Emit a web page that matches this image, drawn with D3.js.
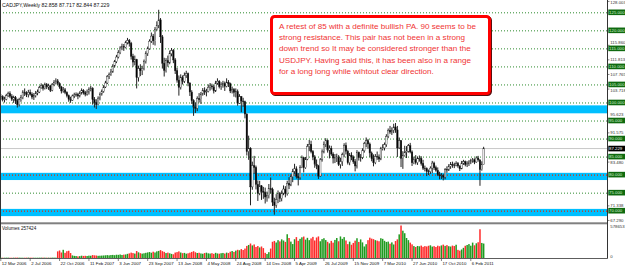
<!DOCTYPE html>
<html>
<head>
<meta charset="utf-8">
<script src="https://cdn.jsdelivr.net/npm/d3@7"></script>
<style>
  body { margin: 0; background: #fff; }
  svg { display: block; }
  text { font-family: "Liberation Sans", Arial, sans-serif; }
</style>
</head>
<body>
<script>
// CADJPY weekly, 12 Mar 2006 .. 27 Mar 2011 (one value per week)
var symbolTitle = "CADJPY,Weekly  82.858 87.717 82.844 87.229";
var firstOpen = 101.3;   // open of the first bar, the rest open at the previous close

var closes = [
  101.6,100.8,100.9,101.9,102.5,101.7,100.9,101.3,100.5,99.4,
  100.8,101.4,102.9,102.6,102.2,102.8,102.3,101.5,101.9,102.6,
  102.9,104.1,104.7,103.9,105.0,104.3,104.6,103.4,104.9,105.5,
  106.0,105.3,104.3,103.2,103.5,102.8,101.9,100.9,100.6,101.8,
  102.1,102.2,101.8,102.6,103.3,102.7,102.3,102.9,103.6,104.0,
  100.8,100.0,99.4,101.2,102.3,103.1,104.3,105.4,107.2,107.8,
  108.5,110.1,111.3,112.6,113.8,115.1,115.6,115.3,116.6,117.2,
  116.4,112.8,111.2,111.9,106.9,109.4,108.8,109.5,111.4,113.6,
  114.9,117.0,118.4,117.1,120.3,121.4,122.9,118.2,110.9,108.9,
  111.6,111.0,113.5,114.4,111.8,108.8,106.2,104.2,106.9,105.9,
  107.5,108.0,105.4,102.9,100.5,98.7,98.4,101.1,100.8,102.3,
  103.4,102.9,103.1,104.2,104.6,104.3,103.2,105.4,105.9,104.4,
  104.9,105.3,104.5,105.6,105.2,103.2,103.6,102.8,103.0,99.8,
  101.6,100.4,100.2,96.8,86.4,87.3,76.6,82.5,82.0,77.3,
  74.8,76.9,75.4,75.1,73.8,74.2,76.2,75.9,72.4,71.5,
  73.1,74.8,73.4,74.9,76.0,74.7,77.6,77.1,79.4,80.9,
  81.6,79.5,79.1,82.0,84.7,81.9,84.3,87.8,88.4,86.4,
  84.9,82.9,82.4,79.6,84.1,86.3,88.4,89.5,86.8,87.3,
  85.7,84.6,84.8,84.9,82.8,83.6,85.5,88.1,86.5,83.3,
  85.4,84.9,83.6,82.4,86.2,84.7,84.8,86.6,88.6,89.4,
  88.5,86.0,84.4,83.3,85.0,84.9,84.3,87.2,87.4,88.3,
  90.6,92.3,91.8,92.3,93.2,92.4,87.4,89.4,84.5,85.3,
  86.2,86.5,88.0,86.3,83.3,84.3,83.3,84.4,84.5,83.1,
  81.8,81.7,80.9,80.8,81.8,83.2,81.9,81.2,80.0,79.7,
  79.8,79.3,81.4,81.3,82.3,82.8,82.7,82.6,83.1,82.4,
  81.6,83.2,83.6,82.8,83.0,83.5,84.0,84.1,83.5,84.6,
  84.1,81.4,82.858,87.229
];
var highs = [
  102.3,102.0,101.6,102.4,103.0,103.1,102.3,101.9,101.8,101.0,
  101.3,102.1,103.4,103.9,103.1,103.5,103.6,102.8,102.6,103.2,
  103.6,104.6,105.3,105.0,105.5,105.4,105.2,104.9,105.4,106.2,
  106.7,106.5,105.6,104.6,104.3,104.0,103.1,102.2,101.6,102.2,
  102.7,102.8,102.7,103.1,103.9,103.7,103.2,103.6,104.2,104.6,
  104.2,101.5,100.9,101.7,102.8,103.6,104.8,106.0,107.6,108.3,
  109.3,110.6,111.8,113.2,114.5,115.6,116.3,116.2,117.1,117.9,
  117.6,116.8,113.5,113.0,112.1,110.2,110.6,110.2,111.9,114.2,
  115.5,117.5,119.4,119.0,120.9,122.5,125.7,123.4,118.7,112.4,
  112.3,113.0,114.4,115.1,114.8,112.3,109.6,107.5,107.8,107.5,
  108.3,108.8,108.3,105.6,103.4,100.9,100.0,101.7,102.6,102.9,
  104.0,104.2,103.8,105.0,105.4,105.2,104.8,106.0,106.7,106.2,
  105.6,106.0,105.8,106.7,106.2,105.5,104.4,104.0,103.9,103.6,
  102.3,101.8,101.3,100.5,97.0,90.8,87.6,83.6,85.2,82.5,
  78.4,78.3,77.1,76.6,76.4,75.3,77.4,79.2,76.4,73.6,
  74.6,75.6,75.2,75.6,77.0,76.8,78.3,79.3,80.1,81.6,
  83.0,82.3,80.4,82.6,85.3,84.8,84.9,88.5,89.6,89.4,
  86.8,85.4,84.2,82.7,84.6,87.0,89.2,90.1,89.7,88.1,
  88.0,86.2,85.7,85.8,85.4,84.7,86.1,88.7,88.9,86.9,
  86.0,86.2,85.3,84.3,86.8,86.4,85.7,87.3,89.1,90.3,
  89.9,88.9,86.4,85.6,85.7,86.4,85.6,87.7,88.4,88.9,
  91.2,92.8,93.5,93.1,94.1,94.3,93.5,90.3,89.6,86.5,
  88.0,87.9,88.5,88.8,86.7,85.0,85.4,85.0,85.3,85.1,
  84.1,82.5,82.0,81.4,82.3,83.8,83.6,82.5,82.0,80.8,
  80.4,80.2,81.8,82.3,82.9,83.5,83.6,83.3,83.7,83.5,
  82.6,83.8,84.1,83.9,83.7,84.0,84.4,84.6,84.5,85.1,
  85.2,84.2,83.7,87.717
];
var lows = [
  100.6,100.3,100.0,100.6,101.5,101.2,100.4,99.9,99.6,98.6,
  98.9,100.2,100.9,101.8,101.5,101.4,101.9,100.9,100.7,101.4,
  102.0,102.6,103.8,103.3,103.6,103.7,103.5,102.9,103.1,104.5,
  105.0,104.8,103.8,102.5,102.7,102.3,101.4,100.2,99.9,100.4,
  101.2,101.6,100.9,101.4,102.2,102.2,101.7,101.9,102.2,103.1,
  99.4,98.6,98.2,99.2,100.6,101.9,102.7,104.0,105.1,106.5,
  107.4,108.2,109.7,110.9,112.2,113.4,114.5,114.3,115.0,116.1,
  115.5,111.9,109.9,110.3,103.9,105.8,107.3,107.6,108.9,110.8,
  112.9,114.6,116.5,116.0,115.8,119.9,120.6,116.5,109.4,107.2,
  108.3,109.9,110.6,112.8,110.9,107.9,105.5,101.9,103.6,105.0,
  105.4,106.8,104.5,101.8,99.6,96.3,97.1,97.6,100.0,99.6,
  101.9,102.1,101.7,102.8,103.3,103.6,102.5,102.9,104.9,103.9,
  103.5,104.1,103.2,104.2,104.3,102.6,102.5,101.6,101.4,99.1,
  99.6,97.3,98.8,95.6,85.3,84.1,71.5,75.8,80.2,75.9,
  72.7,74.3,73.0,73.3,72.0,72.5,73.4,74.8,71.3,68.9,
  70.8,72.1,72.4,72.6,74.3,73.7,74.2,76.0,76.8,77.9,
  80.2,78.9,77.0,78.6,81.8,80.6,81.6,84.0,86.5,85.9,
  84.0,81.9,81.5,78.8,79.4,83.6,85.9,87.6,86.1,84.5,
  85.2,83.1,83.2,83.5,82.4,81.7,82.4,84.8,85.6,82.8,
  82.6,84.0,83.0,80.9,81.7,83.9,83.6,84.3,86.1,87.6,
  87.2,84.9,83.7,82.3,82.9,84.1,83.5,84.0,86.7,86.7,
  87.7,90.1,91.3,91.0,91.5,91.6,84.9,87.1,82.1,81.6,
  85.0,84.6,86.1,85.9,82.4,82.9,82.8,82.7,83.6,82.5,
  81.3,80.9,79.6,79.9,80.2,80.4,81.3,80.8,79.6,78.7,
  78.8,78.4,78.7,80.5,81.0,81.6,81.9,81.8,82.3,81.9,
  81.0,81.5,82.7,82.3,82.1,82.4,82.9,83.3,82.9,83.3,
  83.6,76.9,81.1,82.844
];
var volumes = [
  6100,5400,4800,5900,6600,5200,4700,5800,6900,7300,6200,5600,4900,5300,6400,7100,
  5900,6300,5500,4600,5200,6000,6800,7400,6500,5700,6100,5800,6600,7000,6200,
  118000,134000,98000,146000,92000,121000,129000,88000,46000,
  38000,35000,29000,33000,41000,37000,39000,36000,42000,40000,52000,47000,44000,39000,41000,43000,
  45000,48000,51000,47000,53000,55000,50000,58000,56000,62000,54000,60000,63000,
  74000,82000,96000,88000,79000,124000,101000,86000,
  78000,84000,92000,99000,106000,94000,112000,98000,118000,126000,
  141000,122000,109000,88000,96000,84000,73000,66000,97000,105000,
  118000,98000,86000,91000,77000,84000,95000,108000,121000,102000,
  89000,93000,81000,76000,88000,95000,83000,79000,86000,74000,
  92000,81000,77000,85000,90000,79000,96000,88000,112000,124000,
  108000,131000,146000,138000,159000,142000,168000,215000,
  232000,258000,224000,241000,196000,213000,188000,205000,176000,
  92000,71000,104000,168000,
  289000,304000,276000,318000,296000,332000,311000,287000,423000,356000,292000,248000,334000,372000,306000,
  341000,368000,382000,327000,359000,318000,349000,376000,312000,365000,
  384000,298000,336000,352000,319000,288000,261000,305000,273000,
  322000,356000,298000,384000,341000,372000,312000,247000,291000,
  236000,268000,309000,352000,286000,331000,278000,205000,246000,
  318000,362000,345000,336000,318000,309000,298000,352000,341000,
  306000,286000,292000,254000,278000,241000,302000,332000,
  421000,578653,486000,441000,356000,
  318000,274000,243000,212000,196000,
  214000,208000,221000,199000,212000,205000,218000,226000,203000,211000,
  196000,219000,209000,224000,238000,216000,229000,210000,204000,221000,
  213000,236000,145000,131000,152000,181000,218000,
  232000,248000,219000,274000,226000,262000,281000,512000,268000,257424
];
var volumeMax = 578653;
var volumeTitle = "Volumes 257424";

var dateLabels = ["12 Mar 2006","2 Jul 2006","22 Oct 2006","11 Feb 2007","3 Jun 2007",
  "23 Sep 2007","13 Jan 2008","4 May 2008","24 Aug 2008","14 Dec 2008","5 Apr 2009",
  "26 Jul 2009","15 Nov 2009","7 Mar 2010","27 Jun 2010","17 Oct 2010","6 Feb 2011"];
var dateLabelStep = 16;   // one label every 16 weeks

// scale labels that are not hidden under the line tags
var priceTicks = ["128.003","115.860","111.813","107.765","103.718",
  "95.623","91.575","83.480","71.338","67.290"];

var levels = [125, 120, 115, 110, 105, 100, 95, 90, 85, 80, 75, 70];
var redLevels = [80, 70];
var zones = [[97.0, 99.2], [78.5, 80.5], [68.5, 70.5]];
var lastPrice = 87.229;

var noteLines = [
  "A retest of 85 with a definite bullish PA. 90 seems to be",
  "strong resistance. This pair has not been in a strong",
  "down trend so It may be considered stronger than the",
  "USDJPY. Having said this, it has been also in a range",
  "for a long long while wihtout clear direction."
];

// ---------------------------------------------------------------
var w = 625, h = 266;
var axisX = 607.5;
var tagH = 5.6;

var svg = d3.select("body").append("svg")
  .attr("width", w).attr("height", h);

var x = d3.scaleLinear().domain([0, 256]).range([0.8, 470.8]);
var y = d3.scaleLinear().domain([70, 125]).range([210.7, 12.3]);
var yv = d3.scaleLinear().domain([0, volumeMax]).range([258, 225.5]);

var bars = closes.map(function(c, i) {
  return { i: i, o: i == 0 ? firstOpen : closes[i - 1], h: highs[i], l: lows[i], c: c, v: volumes[i] };
});

// zones
svg.selectAll("rect.zone").data(zones).enter().append("rect")
  .attr("class", "zone")
  .attr("x", 0).attr("width", axisX)
  .attr("y", d => y(d[1])).attr("height", d => y(d[0]) - y(d[1]))
  .attr("fill", "#00bfff");

// dotted level lines
svg.selectAll("line.lvl").data(levels).enter().append("line")
  .attr("class", "lvl")
  .attr("x1", 0).attr("x2", axisX)
  .attr("y1", d => y(d) + 0.5).attr("y2", d => y(d) + 0.5)
  .attr("stroke", "#2e8b2e").attr("stroke-width", 1)
  .attr("stroke-dasharray", "1,2");

svg.selectAll("line.red").data(redLevels).enter().append("line")
  .attr("class", "red")
  .attr("x1", 0).attr("x2", axisX)
  .attr("y1", d => y(d) + 0.5).attr("y2", d => y(d) + 0.5)
  .attr("stroke", "#ff2020").attr("stroke-width", 1)
  .attr("stroke-dasharray", "1,2");

// bid line
svg.append("line")
  .attr("x1", 0).attr("x2", axisX)
  .attr("y1", y(lastPrice)).attr("y2", y(lastPrice))
  .attr("stroke", "#c8c8c8").attr("stroke-width", 1);

// candles
var candle = svg.append("g");
candle.selectAll("line").data(bars).enter().append("line")
  .attr("x1", d => x(d.i)).attr("x2", d => x(d.i))
  .attr("y1", d => y(d.h)).attr("y2", d => y(d.l))
  .attr("stroke", "#222").attr("stroke-width", 1);
candle.selectAll("rect").data(bars).enter().append("rect")
  .attr("x", d => x(d.i) - 0.75).attr("width", 1.5)
  .attr("y", d => y(Math.max(d.o, d.c)))
  .attr("height", d => Math.max(0.5, Math.abs(y(d.o) - y(d.c))))
  .attr("fill", d => d.c >= d.o ? "#fff" : "#000")
  .attr("stroke", "#222").attr("stroke-width", 0.4);

// note box
var note = svg.append("g");
note.append("rect")
  .attr("x", 272.5).attr("y", 17.5).attr("width", 218).attr("height", 77).attr("rx", 3)
  .attr("fill", "none").attr("stroke", "#5a1010").attr("stroke-width", 3);
note.append("rect")
  .attr("x", 271.5).attr("y", 16.5).attr("width", 218).attr("height", 77).attr("rx", 3)
  .attr("fill", "#fff").attr("stroke", "#ff0000").attr("stroke-width", 3);
note.selectAll("text").data(noteLines).enter().append("text")
  .attr("x", 279).attr("y", (d, i) => 28.8 + i * 11.3)
  .attr("font-size", "8.1px").attr("fill", "#f03434")
  .text(d => d);

// header
svg.append("text").attr("x", 2).attr("y", 6.5)
  .attr("font-size", "5.2px").attr("fill", "#111").text(symbolTitle);

// pane separator and borders
svg.append("rect").attr("x", 0).attr("y", 222.3).attr("width", axisX).attr("height", 2)
  .attr("fill", "#808080");
svg.append("line").attr("x1", axisX).attr("x2", axisX).attr("y1", 0).attr("y2", 258.5)
  .attr("stroke", "#333").attr("stroke-width", 1);
svg.append("line").attr("x1", 0).attr("x2", axisX).attr("y1", 258.5).attr("y2", 258.5)
  .attr("stroke", "#333").attr("stroke-width", 0.8);
svg.append("line").attr("x1", 0.5).attr("x2", 0.5).attr("y1", 0).attr("y2", 258.5)
  .attr("stroke", "#333").attr("stroke-width", 1);

// volumes
svg.append("g").selectAll("rect").data(bars).enter().append("rect")
  .attr("x", d => x(d.i) - 0.75).attr("width", 1.5)
  .attr("y", d => yv(d.v)).attr("height", d => 258 - yv(d.v))
  .attr("fill", d => d.c >= d.o ? "#1f9a1f" : "#ff2b2b");
svg.append("text").attr("x", 2).attr("y", 230)
  .attr("font-size", "4.6px").attr("fill", "#111").text(volumeTitle);

// right price scale: a label that would run under a line tag sits just clear of it
function clearOfTags(v) {
  var yy = y(v);
  levels.concat([lastPrice]).forEach(function(l) {
    var d = yy - y(l);
    if (Math.abs(d) < tagH) yy = y(l) + (d < 0 ? -tagH : tagH);
  });
  return Math.max(yy, 2);
}
var scale = svg.append("g");
scale.selectAll("line").data(priceTicks).enter().append("line")
  .attr("x1", axisX).attr("x2", axisX + 2)
  .attr("y1", d => y(+d)).attr("y2", d => y(+d))
  .attr("stroke", "#333").attr("stroke-width", 0.6);
scale.selectAll("text").data(priceTicks).enter().append("text")
  .attr("x", 610.3).attr("y", d => clearOfTags(+d)).attr("dy", "0.35em")
  .attr("font-size", "4.3px").attr("fill", "#333").text(d => d);

var lvlTag = svg.append("g").selectAll("g").data(levels).enter().append("g")
  .attr("transform", d => "translate(" + (axisX + 0.8) + "," + y(d) + ")");
lvlTag.append("rect").attr("x", 0).attr("y", -tagH / 2).attr("width", 16.7).attr("height", tagH)
  .attr("fill", "#0f6a0f");
lvlTag.append("text").attr("x", 0.8).attr("dy", "0.35em")
  .attr("font-size", "4.3px").attr("fill", "#d8f5d8").text(d => d3.format(".3f")(d));

var bidTag = svg.append("g").attr("transform", "translate(" + (axisX + 0.8) + "," + y(lastPrice) + ")");
bidTag.append("rect").attr("x", 0).attr("y", -tagH / 2).attr("width", 16.7).attr("height", tagH).attr("fill", "#000");
bidTag.append("text").attr("x", 0.8).attr("dy", "0.35em")
  .attr("font-size", "4.3px").attr("fill", "#fff").text(d3.format(".3f")(lastPrice));

// volume scale
svg.append("text").attr("x", 610.3).attr("y", yv(volumeMax) + 1.2).attr("dy", "0.35em")
  .attr("font-size", "4.3px").attr("fill", "#333").text(volumeMax);
svg.append("text").attr("x", 610.3).attr("y", 256).attr("dy", "0.35em")
  .attr("font-size", "4.3px").attr("fill", "#333").text("0");

// date axis
var dates = svg.append("g").selectAll("g").data(dateLabels).enter().append("g")
  .attr("transform", (d, k) => "translate(" + x(k * dateLabelStep) + ",0)");
dates.append("line").attr("y1", 258.5).attr("y2", 261).attr("stroke", "#333").attr("stroke-width", 0.6);
dates.append("text").attr("x", 1).attr("y", 264.6)
  .attr("font-size", "4.4px").attr("fill", "#111").text(d => d);
</script>
</body>
</html>
